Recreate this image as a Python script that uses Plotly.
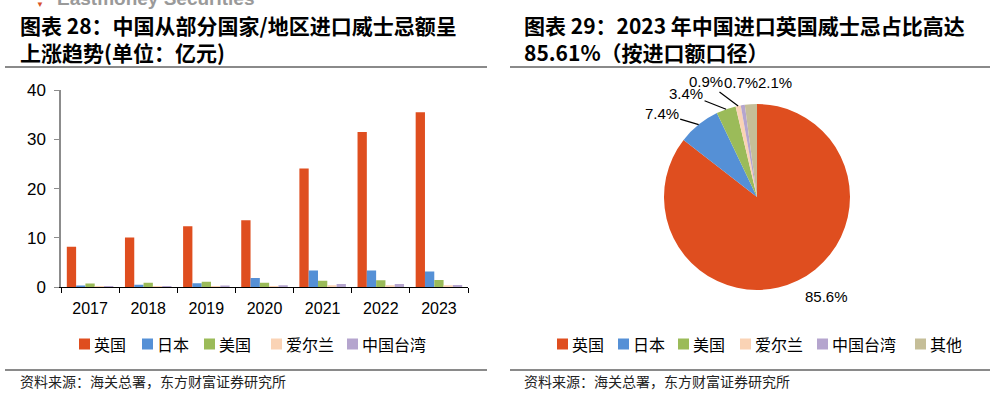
import math
import plotly.graph_objects as go

W, H = 997, 395

# ---------------- data ----------------
years = ["2017", "2018", "2019", "2020", "2021", "2022", "2023"]
uk = [8.2, 10.1, 12.4, 13.6, 24.1, 31.5, 35.5]
japan = [0.35, 0.5, 0.8, 1.9, 3.4, 3.4, 3.2]
usa = [0.75, 0.9, 1.15, 0.9, 1.35, 1.45, 1.5]
ireland = [0.1, 0.12, 0.15, 0.2, 0.4, 0.4, 0.4]
taiwan = [0.15, 0.2, 0.35, 0.4, 0.65, 0.65, 0.45]
bar_names = ["英国", "日本", "美国", "爱尔兰", "中国台湾"]

pie_labels = ["英国", "日本", "美国", "爱尔兰", "中国台湾", "其他"]
pie_values = [85.6, 7.4, 3.4, 0.9, 0.7, 2.1]

y_ticks = [0, 10, 20, 30, 40]

colors = ["#DF4E1F", "#5590D6", "#9BBB59", "#FAD3B5", "#B5A5CE", "#C5BE98"]

title_left = ["图表 28：中国从部分国家/地区进口威士忌额呈", "上涨趋势(单位：亿元)"]
title_right = ["图表 29：2023 年中国进口英国威士忌占比高达", "85.61%（按进口额口径）"]
source_text = "资料来源：海关总署，东方财富证券研究所"

# ---------------- layout constants (pixels) ----------------
legend_left_x = [79, 142, 204, 271, 347]
legend_right_x = [557, 618, 678, 740, 817, 915]
legend_y = 344
sq = 11


def px(x):
    return x / W


def py(y):
    return 1 - y / H


CJK = "Noto Sans CJK SC"
SANS = "Liberation Sans, Arial, sans-serif"

fig = go.Figure()

series = [uk, japan, usa, ireland, taiwan]
for name, vals, col in zip(bar_names, series, colors):
    fig.add_trace(go.Bar(
        x=years, y=vals, name=name, marker=dict(color=col, line=dict(width=0)),
        showlegend=False, hoverinfo="x+y+name",
    ))

# pie geometry (pixels)
pcx, pcy, pr = 757, 197, 93
fig.add_trace(go.Pie(
    labels=pie_labels, values=pie_values, sort=False, direction="clockwise",
    rotation=0, marker=dict(colors=colors, line=dict(width=0)),
    textinfo="none", domain=dict(x=[px(pcx - pr), px(pcx + pr)], y=[py(pcy + pr), py(pcy - pr)]),
    showlegend=False, hoverinfo="label+percent",
))

annotations = []
shapes = []

# pie labels from data
total = sum(pie_values)
offsets = [(29, 16, False), (-37, -11, True), (-40, -16, True), (-32, -24, True), (-2, -23, False), (24, -22, False)]
cum = 0
for v, (dx, dy, arrow) in zip(pie_values, offsets):
    mid = (cum + v / 2) / total * 2 * math.pi
    cum += v
    ex = pcx + pr * math.sin(mid)
    ey = pcy - pr * math.cos(mid)
    txt = f"{v:.1f}%"
    if arrow:
        annotations.append(dict(x=px(ex), y=py(ey), xref="paper", yref="paper", text=txt,
                                showarrow=True, arrowhead=0, arrowwidth=1.2, arrowcolor="#000",
                                ax=dx, ay=dy, font=dict(family=SANS, size=15, color="#000"),
                                standoff=0))
    else:
        annotations.append(dict(x=px(ex + dx), y=py(ey + dy), xref="paper", yref="paper", text=txt,
                                xanchor="center", yanchor="middle",
                                showarrow=False, font=dict(family=SANS, size=15, color="#000")))

# manual legends
for names, xs in ((bar_names, legend_left_x), (pie_labels, legend_right_x)):
    for i, (nm, x0) in enumerate(zip(names, xs)):
        shapes.append(dict(type="rect", xref="paper", yref="paper",
                           x0=px(x0), x1=px(x0 + sq), y0=py(legend_y + sq / 2), y1=py(legend_y - sq / 2),
                           fillcolor=colors[i], line=dict(width=0)))
        annotations.append(dict(x=px(x0 + sq + 2), y=py(legend_y), xref="paper", yref="paper", text=nm,
                                xanchor="left", yanchor="middle", showarrow=False,
                                font=dict(family=CJK, size=16, color="#000")))

# titles (two lines each)
for lines, x0 in ((title_left, 18), (title_right, 522)):
    annotations.append(dict(x=px(x0), y=py(39), xref="paper", yref="paper", text="<br>".join(lines),
                            xanchor="left", yanchor="middle", align="left", showarrow=False,
                            font=dict(family=CJK, size=21, color="#000", weight="bold")))
    annotations.append(dict(x=px(x0), y=py(381), xref="paper", yref="paper", text=source_text,
                            xanchor="left", yanchor="middle", showarrow=False,
                            font=dict(family=CJK, size=14, color="#222")))

# watermark (cut at top)
annotations.append(dict(x=px(55), y=py(-1), xref="paper", yref="paper", text="Eastmoney Securities",
                        xanchor="left", yanchor="middle", showarrow=False,
                        font=dict(family=SANS, size=19, color="#9a9a9a", weight="bold")))
annotations.append(dict(x=px(40), y=py(5), xref="paper", yref="paper", text="▼",
                        xanchor="center", yanchor="middle", showarrow=False,
                        font=dict(family=SANS, size=8, color="#d9532b")))

# separator lines
for (x0, x1) in ((5, 487), (510, 990)):
    for yy in (67, 370):
        shapes.append(dict(type="line", xref="paper", yref="paper", x0=px(x0), x1=px(x1),
                           y0=py(yy), y1=py(yy), line=dict(color="#8a8a8a", width=2)))

fig.update_layout(
    width=W, height=H, margin=dict(l=0, r=0, t=0, b=0, autoexpand=False),
    paper_bgcolor="white", plot_bgcolor="white",
    barmode="group", bargap=0.2, bargroupgap=0,
    showlegend=False,
    xaxis=dict(domain=[px(61), px(468)], type="category", range=[-0.5, 6.5],
               showline=True, linecolor="#000", linewidth=1, ticks="outside", ticklen=5,
               tickcolor="#000", tickson="boundaries", showgrid=False, zeroline=False,
               tickfont=dict(family=SANS, size=16, color="#000"), ticklabelstandoff=6),
    yaxis=dict(domain=[py(287.3), py(90)], range=[0, 40], tickvals=y_ticks,
               showline=True, linecolor="#8c8c8c", linewidth=1.5, ticks="outside", ticklen=5,
               tickcolor="#8c8c8c", showgrid=False, zeroline=False,
               tickfont=dict(family=SANS, size=17, color="#000"), ticklabelstandoff=5),
    annotations=annotations, shapes=shapes,
)

fig.write_html("out.html", config={"displayModeBar": False},
               post_script="document.body.style.margin='0px';")
